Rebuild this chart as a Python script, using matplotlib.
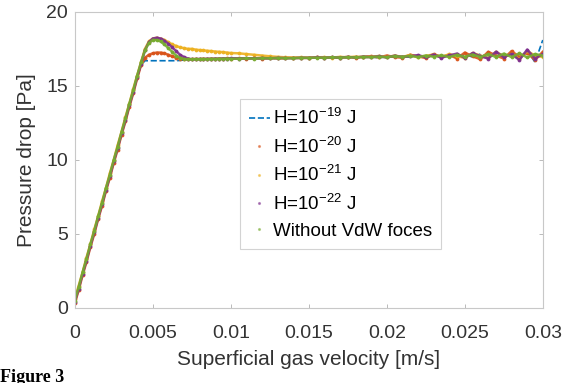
import matplotlib
matplotlib.use("Agg")
from matplotlib import pyplot as plt
from matplotlib.lines import Line2D

plt.rcParams['font.family'] = ['Liberation Sans', 'DejaVu Sans']
plt.rcParams['mathtext.fontset'] = 'custom'
plt.rcParams['mathtext.rm'] = 'Liberation Sans'
plt.rcParams['mathtext.it'] = 'Liberation Sans:italic'

# superficial gas velocity [m/s]
x = [0, .00025, .0005, .00075, .001, .00125, .0015, .00175, .002, .00225,
     .0025, .00275, .003, .00325, .0035, .00375, .004, .00425, .0045, .00475,
     .005, .00525, .0055, .00575, .006, .00625, .0065, .00675, .007, .00725,
     .0075, .00775, .008, .00825, .0085, .00875, .009, .00925, .0095, .00975,
     .01, .0105, .011, .0115, .012, .0125, .013, .0135, .014, .0145,
     .015, .0155, .016, .0165, .017, .0175, .018, .0185, .019, .0195,
     .02, .0205, .021, .0215, .022, .0225, .023, .0235, .024, .0245,
     .025, .0255, .026, .0265, .027, .0275, .028, .0285, .029, .0295, .03]

# pressure drop [Pa]
h19 = [0.5, 1.4, 2.3, 3.3, 4.2, 5.2, 6.1, 7.1, 8.0, 9.0, 9.9, 10.9, 11.8, 12.8,
       13.7, 14.7, 15.6, 16.4, 16.7, 16.7, 16.7, 16.7, 16.7, 16.7, 16.7, 16.7,
       16.7, 16.72, 16.75, 16.78, 16.8, 16.8, 16.8, 16.82, 16.8, 16.82, 16.83,
       16.82, 16.84, 16.83, 16.85,
       16.85, 16.84, 16.86, 16.85, 16.87, 16.86, 16.88, 16.87, 16.89, 16.88,
       16.9, 16.91, 16.89, 16.92, 16.9, 16.93, 16.91, 16.95, 16.9, 16.97,
       16.93, 17.0, 16.94, 17.03, 16.92, 17.05, 16.95, 17.1, 16.93, 17.12,
       16.95, 17.15, 16.9, 17.2, 16.92, 17.25, 16.85, 17.4, 16.6, 18.1]
h20 = [0.3, 1.2, 2.2, 3.1, 4.1, 5.0, 6.0, 6.9, 7.9, 8.8, 9.8, 10.7, 11.7, 12.6,
       13.6, 14.5, 15.5, 16.4, 16.9, 17.1, 17.2, 17.25, 17.25, 17.2, 17.1, 17.0,
       16.9, 16.85, 16.82, 16.8, 16.8, 16.82, 16.8, 16.83, 16.81, 16.84, 16.82,
       16.85, 16.83, 16.86, 16.84,
       16.86, 16.85, 16.87, 16.85, 16.88, 16.86, 16.87, 16.9, 16.88, 16.9,
       16.92, 16.89, 16.93, 16.9, 16.96, 16.9, 16.97, 17.0, 16.92, 17.05,
       16.95, 16.9, 17.1, 17.0, 16.88, 17.15, 16.95, 17.1, 16.85, 17.25,
       17.0, 16.8, 17.3, 17.05, 16.85, 17.35, 16.95, 17.25, 16.75, 17.3]
h21 = [0.6, 1.5, 2.4, 3.4, 4.3, 5.3, 6.2, 7.2, 8.1, 9.1, 10.0, 11.0, 11.9, 12.9,
       13.8, 14.8, 15.7, 16.6, 17.5, 18.0, 18.2, 18.25, 18.2, 18.1, 17.95, 17.8,
       17.7, 17.6, 17.55, 17.5, 17.5, 17.45, 17.42, 17.4, 17.37, 17.35, 17.32,
       17.3, 17.28, 17.25, 17.22,
       17.2, 17.15, 17.1, 17.05, 17.0, 16.96, 16.93, 16.91, 16.92, 16.9,
       16.93, 16.94, 16.91, 16.96, 16.93, 16.98, 16.94, 16.97, 17.02, 16.93,
       17.05, 16.96, 17.08, 16.92, 17.03, 17.12, 16.93, 17.15, 17.0, 16.9,
       17.22, 17.05, 16.88, 17.3, 17.0, 17.15, 16.82, 17.35, 17.05, 16.95]
h22 = [0.4, 1.3, 2.3, 3.2, 4.2, 5.1, 6.1, 7.0, 8.0, 8.9, 9.9, 10.8, 11.8, 12.7,
       13.7, 14.6, 15.6, 16.5, 17.4, 17.95, 18.2, 18.25, 18.2, 18.05, 17.85, 17.6,
       17.35, 17.1, 16.95, 16.85, 16.8, 16.8, 16.82, 16.8, 16.83, 16.81, 16.84,
       16.82, 16.85, 16.83, 16.86,
       16.85, 16.87, 16.86, 16.88, 16.86, 16.89, 16.88, 16.87, 16.9, 16.89,
       16.92, 16.9, 16.93, 16.91, 16.95, 16.92, 16.97, 16.94, 17.0, 16.92,
       17.04, 16.95, 17.0, 17.08, 16.93, 17.12, 16.9, 17.06, 17.18, 16.88,
       17.22, 17.0, 16.85, 17.3, 16.95, 17.15, 16.75, 17.45, 16.85, 17.15]
no_vdw = [0.5, 1.4, 2.4, 3.3, 4.3, 5.2, 6.2, 7.1, 8.1, 9.0, 10.0, 10.9, 11.9, 12.8,
          13.8, 14.7, 15.7, 16.6, 17.4, 17.9, 18.1, 18.1, 18.0, 17.8, 17.55, 17.3,
          17.05, 16.9, 16.82, 16.8, 16.8, 16.81, 16.8, 16.82, 16.8, 16.83, 16.81,
          16.84, 16.82, 16.85, 16.83,
          16.84, 16.86, 16.85, 16.87, 16.86, 16.88, 16.87, 16.87, 16.9, 16.89,
          16.91, 16.9, 16.93, 16.91, 16.94, 16.92, 16.96, 16.94, 16.98, 16.94,
          17.01, 16.96, 17.03, 16.95, 17.05, 16.97, 17.07, 16.95, 17.1, 16.97,
          17.12, 16.95, 17.15, 16.95, 17.18, 16.95, 17.2, 16.92, 17.15, 17.05]

labels = [r'H=10$^{-19}$ J', r'H=10$^{-20}$ J', r'H=10$^{-21}$ J',
          r'H=10$^{-22}$ J', 'Without VdW foces']
colors = ['#0072BD', '#D95319', '#EDB120', '#7E2F8E', '#77AC30']

fig = plt.figure(figsize=(5.75, 3.83), dpi=100)
ax = fig.add_axes([0.130, 0.196, 0.814, 0.773])

ax.plot(x, h19, '--', color=colors[0], lw=1.2)
for y, c in zip([h20, h21, h22, no_vdw], colors[1:]):
    ax.plot(x, y, '.-', color=c, lw=1.8, ms=3.5, alpha=0.9)

ax.set_xlim(0, 0.03)
ax.set_ylim(0, 20)
ax.set_xticks([0, 0.005, 0.01, 0.015, 0.02, 0.025, 0.03])
ax.set_xticklabels(['0', '0.005', '0.01', '0.015', '0.02', '0.025', '0.03'])
ax.set_yticks([0, 5, 10, 15, 20])
ax.tick_params(direction='in', length=3, width=0.6, color='#b0b0b0',
               labelcolor='#333333', labelsize=14, top=True, right=True)
ax.tick_params(axis='x', pad=12)
ax.tick_params(axis='y', pad=5)
for s in ax.spines.values():
    s.set_color('#c8c8c8')
    s.set_linewidth(0.8)
ax.set_xlabel('Superficial gas velocity [m/s]', fontsize=15, color='#333333', labelpad=6)
ax.set_ylabel('Pressure drop [Pa]', fontsize=15, color='#333333', labelpad=7)

handles = [Line2D([], [], ls='--', color=colors[0], lw=1.2)]
for c in colors[1:]:
    handles.append(Line2D([], [], ls='none', marker='.', color=c, ms=2.5, alpha=0.5))
leg = ax.legend(handles, labels, loc='upper left', bbox_to_anchor=(0.3526, 0.706),
                fontsize=13.5, frameon=True, fancybox=False, handlelength=1.1,
                borderpad=0.5, labelspacing=0.45, handletextpad=0.15,
                borderaxespad=0)
leg.get_frame().set_edgecolor('#c8c8c8')
leg.get_frame().set_linewidth(0.8)

fig.text(0.0, 1 / 383, 'Figure 3', fontsize=13, weight='bold',
         family='Liberation Serif', va='baseline', ha='left')

fig.savefig('out.png', dpi=100)
